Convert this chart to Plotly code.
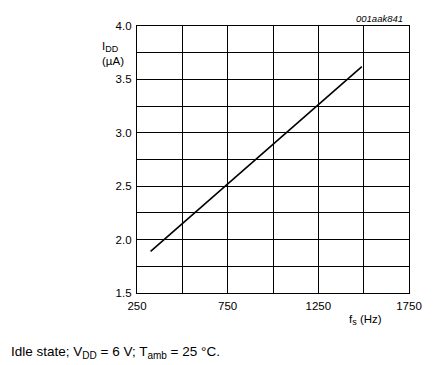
import plotly.graph_objects as go

# data
fs_hz = [325, 1490]
idd_ua = [1.89, 3.62]
x_ticks = [250, 750, 1250, 1750]
x_tick_labels = ["250", "750", "1250", "1750"]
y_ticks = [1.5, 2.0, 2.5, 3.0, 3.5, 4.0]
y_tick_labels = ["1.5", "2.0", "2.5", "3.0", "3.5", "4.0"]

FONT = "Liberation Sans, Arial, sans-serif"
SUB = '<sub><span style="font-size:%dpx">%s</span></sub>'

fig = go.Figure()
fig.add_trace(go.Scatter(x=fs_hz, y=idd_ua, mode="lines",
                         line=dict(color="black", width=1.6), showlegend=False))

grid = dict(showgrid=True, gridcolor="black", gridwidth=1.2,
            showline=True, linecolor="black", linewidth=1.2, mirror=True,
            ticks="", zeroline=False, tickfont=dict(size=11.5), ticklabelstandoff=2)

fig.update_layout(
    width=428, height=357,
    margin=dict(l=129, r=27, t=14, b=72),
    paper_bgcolor="white", plot_bgcolor="white",
    font=dict(family=FONT, size=11, color="black"),
    xaxis=dict(range=[250, 1750], tickvals=x_ticks, ticktext=x_tick_labels,
               minor=dict(dtick=250, tick0=250, showgrid=True, gridcolor="black", gridwidth=1.2),
               **grid),
    yaxis=dict(range=[1.5, 4.0], tickvals=y_ticks, ticktext=y_tick_labels,
               minor=dict(dtick=0.25, tick0=1.5, showgrid=True, gridcolor="black", gridwidth=1.2),
               **grid),
)

fig.add_annotation(xref="paper", yref="paper", x=-0.136, y=0.955, xanchor="left", yanchor="top",
                   text="I" + SUB % (9, "DD") + "<br>(µA)", showarrow=False, align="left",
                   font=dict(size=11.5))
fig.add_annotation(xref="paper", yref="paper", x=0.771, y=-0.068, xanchor="left", yanchor="top",
                   text="f" + SUB % (9, "s") + " (Hz)", showarrow=False, font=dict(size=11.5))
fig.add_annotation(xref="paper", yref="paper", x=0.985, y=1.0, xanchor="right", yanchor="bottom",
                   text="<i>001aak841</i>", showarrow=False, font=dict(size=9.5), yshift=0)
fig.add_annotation(xref="paper", yref="paper", x=-0.469, y=-0.182, xanchor="left", yanchor="top",
                   text="Idle state; V" + SUB % (10, "DD") + " = 6 V; T" + SUB % (10, "amb") + " = 25 °C.",
                   showarrow=False, font=dict(size=13.5))

fig.write_html("out.html")
